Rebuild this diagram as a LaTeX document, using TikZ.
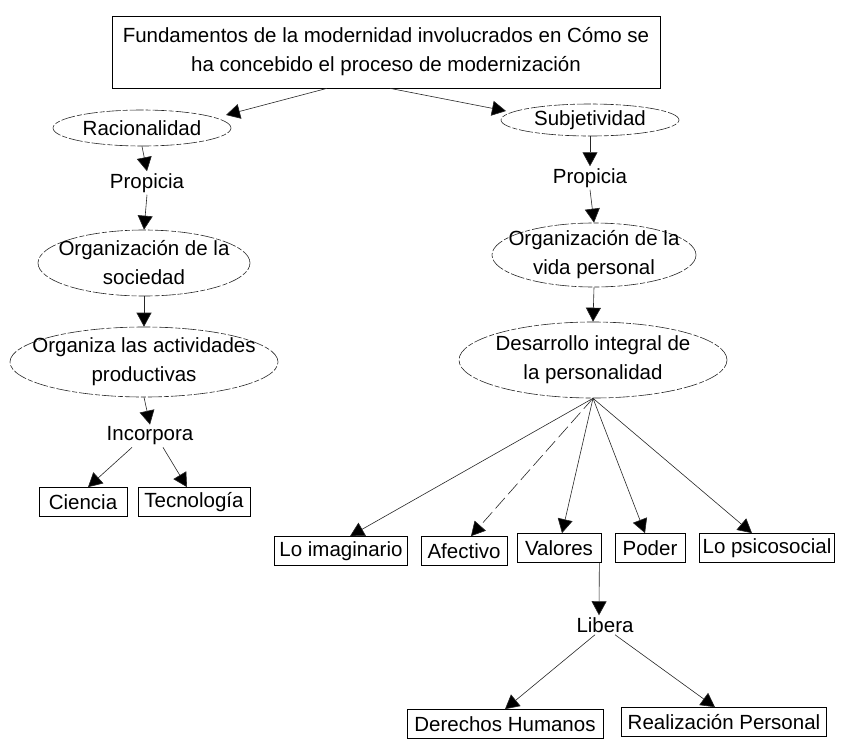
\documentclass[tikz,border=0pt]{standalone}
\usepackage{fontspec}
\setmainfont{Liberation Sans}
\usetikzlibrary{shapes.geometric,arrows.meta}
\begin{document}
\begin{tikzpicture}[x=1pt,y=-1pt,
  every node/.style={font=\fontsize{20.5}{29}\selectfont, text=black},
  txt/.style={inner sep=2pt, align=center},
  oval/.style={ellipse, draw=black!85, line width=0.6pt,
    dash pattern=on 14pt off 2pt on 5pt off 2pt, inner sep=0pt},
  tag/.style={draw=black, line width=0.7pt, inner xsep=2pt, inner ysep=0pt,
    minimum height=29pt},
  link/.style={draw=black!85, line width=0.6pt,
    -{Triangle[width=15pt,length=14pt,fill=black]}},
]
\path[use as bounding box] (0,0) rectangle (843,740);

% title box
\node[draw=black, line width=0.7pt, minimum width=548pt, minimum height=72pt,
  align=center, inner sep=0pt] (top) at (386,52)
  {Fundamentos de la modernidad involucrados en Cómo se\\ha concebido el proceso de modernización};

% left branch
\node[oval, minimum width=178pt, minimum height=36pt] (rac) at (142,128) {};
\node[txt] (ract) at (rac) {Racionalidad};
\node[txt] (propL) at (147,183) {Propicia};
\node[oval, minimum width=212pt, minimum height=66pt] (soc) at (144,263) {};
\node[txt] (soct) at (soc) {Organización de la\\sociedad};
\node[oval, minimum width=268pt, minimum height=70pt] (org) at (144,362) {};
\node[txt] (orgt) at (org) {Organiza las actividades\\productivas};
\node[txt] (inc) at (150,436) {Incorpora};
\node[tag, minimum width=88pt] (cien) at (83,502) {Ciencia};
\node[tag, minimum width=112pt] (tec) at (194,502) {Tecnología};

% right branch
\node[oval, minimum width=178pt, minimum height=32pt] (subj) at (590,120) {};
\node[txt] (subjt) at (subj) {Subjetividad};
\node[txt] (propR) at (590,178) {Propicia};
\node[oval, minimum width=204pt, minimum height=64pt] (vida) at (594,255) {};
\node[txt] (vidat) at (vida) {Organización de la\\vida personal};
\node[oval, minimum width=268pt, minimum height=76pt] (des) at (593,360) {};
\node[txt] (dest) at (des) {Desarrollo integral de\\la personalidad};

\node[tag, minimum width=133pt] (limag) at (341,551) {Lo imaginario};
\node[tag, minimum width=86pt] (afec) at (464,551) {Afectivo};
\node[tag, minimum width=84pt] (val) at (559,548) {Valores};
\node[tag, minimum width=70pt] (pod) at (650,548) {Poder};
\node[tag, minimum width=135pt] (psico) at (767,548) {Lo psicosocial};
\node[txt] (lib) at (605,625) {Libera};
\node[tag, minimum width=196pt] (dh) at (505,724) {Derechos Humanos};
\node[tag, minimum width=205pt] (rp) at (724,722) {Realización Personal};

% connectors
\draw[link] ([xshift=-59pt]top.south) -- ([xshift=84pt,yshift=13pt]rac.center);
\draw[link] ([xshift=4pt]top.south) -- ([xshift=-84pt,yshift=9pt]subj.center);

\draw[link] (rac.south) -- (propL.north);
\draw[link] (propL.south) -- (soc.north);
\draw[link] (soc.south) -- (org.north);
\draw[link] (org.south) -- (inc.north);
\draw[link] ([xshift=-18pt]inc.south) -- ([xshift=5pt]cien.north);
\draw[link] ([xshift=13pt]inc.south) -- ([xshift=-7pt]tec.north);

\draw[link] (subj.south) -- (propR.north);
\draw[link] (propR.south) -- (vida.north);
\draw[link] (vida.south) -- (des.north);

\draw[link] (des.south) -- ([xshift=9pt]limag.north);
\draw[link, dash pattern=on 14pt off 5pt] (des.south) -- ([xshift=7pt]afec.north);
\draw[link] (des.south) -- ([xshift=3pt]val.north);
\draw[link] (des.south) -- ([xshift=-5pt]pod.north);
\draw[link] (des.south) -- ([xshift=-15pt]psico.north);

\draw[link] ([xshift=-2pt]val.south east) -- ([xshift=-6pt]lib.north);
\draw[link] ([xshift=-10pt]lib.south) -- (dh.north);
\draw[link] ([xshift=10pt]lib.south) -- ([xshift=-9pt]rp.north);
\end{tikzpicture}
\end{document}
